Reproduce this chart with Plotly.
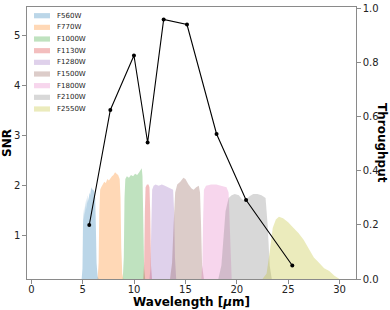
import plotly.graph_objects as go

# SNR per filter (left axis)
snr_wavelength = [5.64, 7.69, 9.99, 11.32, 12.88, 15.15, 18.03, 20.9, 25.4]
snr_values = [1.2, 3.5, 4.59, 2.85, 5.31, 5.21, 3.02, 1.7, 0.39]

filter_names = ["F560W", "F770W", "F1000W", "F1130W", "F1280W",
                "F1500W", "F1800W", "F2100W", "F2550W"]
filter_colors = ["rgba(31,119,180,0.3)", "rgba(255,127,14,0.3)", "rgba(44,160,44,0.3)",
                 "rgba(214,39,40,0.3)", "rgba(148,103,189,0.3)", "rgba(140,86,75,0.3)",
                 "rgba(227,119,194,0.3)", "rgba(127,127,127,0.3)", "rgba(188,189,34,0.3)"]

f560w_wl = [4.9, 4.98, 5.03, 5.08, 5.12, 5.18, 5.22, 5.28, 5.33, 5.4, 5.45, 5.5, 5.58, 5.65,
            5.72, 5.8, 5.88, 5.95, 6.05, 6.15, 6.22, 6.28, 6.35, 6.45, 6.55]
f560w_tp = [0.0, 0.04, 0.2, 0.26, 0.22, 0.27, 0.24, 0.29, 0.26, 0.3, 0.28, 0.31, 0.29, 0.32,
            0.31, 0.33, 0.34, 0.33, 0.33, 0.32, 0.3, 0.2, 0.06, 0.01, 0.0]

f770w_wl = [6.45, 6.55, 6.62, 6.7, 6.8, 6.95, 7.1, 7.25, 7.4, 7.55, 7.7, 7.85, 8.0, 8.15,
            8.3, 8.45, 8.6, 8.68, 8.75, 8.85, 8.95]
f770w_tp = [0.0, 0.06, 0.25, 0.33, 0.34, 0.35, 0.36, 0.355, 0.37, 0.365, 0.375, 0.38, 0.385,
            0.395, 0.39, 0.385, 0.37, 0.3, 0.12, 0.02, 0.0]

f1000w_wl = [8.9, 9.0, 9.07, 9.15, 9.3, 9.5, 9.7, 9.9, 10.1, 10.3, 10.5, 10.65, 10.75,
             10.82, 10.9, 10.98, 11.08]
f1000w_tp = [0.0, 0.08, 0.3, 0.37, 0.38, 0.375, 0.385, 0.38, 0.39, 0.385, 0.395, 0.405,
             0.41, 0.38, 0.2, 0.04, 0.0]

f1130w_wl = [10.9, 10.98, 11.05, 11.12, 11.25, 11.4, 11.5, 11.57, 11.65, 11.75]
f1130w_tp = [0.0, 0.06, 0.25, 0.34, 0.35, 0.35, 0.34, 0.25, 0.05, 0.0]

f1280w_wl = [11.5, 11.6, 11.68, 11.76, 11.9, 12.1, 12.4, 12.7, 13.0, 13.3, 13.6, 13.8,
             13.9, 13.98, 14.1]
f1280w_tp = [0.0, 0.04, 0.2, 0.33, 0.345, 0.35, 0.345, 0.35, 0.345, 0.34, 0.335, 0.33,
             0.25, 0.08, 0.0]

f1500w_wl = [13.5, 13.7, 13.85, 14.0, 14.2, 14.5, 14.8, 15.0, 15.3, 15.6, 15.8, 16.05,
             16.3, 16.42, 16.52, 16.62, 16.8]
f1500w_tp = [0.0, 0.06, 0.2, 0.32, 0.35, 0.36, 0.375, 0.37, 0.35, 0.335, 0.33, 0.34,
             0.345, 0.32, 0.2, 0.05, 0.0]

f1800w_wl = [16.55, 16.65, 16.72, 16.8, 17.0, 17.5, 18.0, 18.5, 19.0, 19.2, 19.3, 19.38, 19.5]
f1800w_tp = [0.0, 0.06, 0.22, 0.33, 0.345, 0.35, 0.35, 0.345, 0.34, 0.32, 0.2, 0.06, 0.0]

f2100w_wl = [18.2, 18.5, 18.7, 18.9, 19.2, 19.5, 19.8, 20.2, 20.5, 20.8, 21.2, 21.6,
             22.0, 22.4, 22.8, 23.0, 23.2, 23.4]
f2100w_tp = [0.0, 0.05, 0.15, 0.25, 0.3, 0.31, 0.315, 0.31, 0.295, 0.29, 0.305, 0.315,
             0.315, 0.31, 0.3, 0.2, 0.05, 0.0]

f2550w_wl = [22.5, 22.9, 23.2, 23.5, 23.8, 24.1, 24.5, 25.0, 25.5, 26.0, 26.5, 27.0, 27.5,
             28.0, 28.5, 29.0, 29.5, 30.0]
f2550w_tp = [0.0, 0.02, 0.1, 0.19, 0.22, 0.23, 0.225, 0.21, 0.19, 0.17, 0.145, 0.11, 0.08,
             0.06, 0.04, 0.03, 0.012, 0.0]

filter_wl = [f560w_wl, f770w_wl, f1000w_wl, f1130w_wl, f1280w_wl,
             f1500w_wl, f1800w_wl, f2100w_wl, f2550w_wl]
filter_tp = [f560w_tp, f770w_tp, f1000w_tp, f1130w_tp, f1280w_tp,
             f1500w_tp, f1800w_tp, f2100w_tp, f2550w_tp]

FONT = "DejaVu Sans"
fig = go.Figure()

for name, col, wl, tp in zip(filter_names, filter_colors, filter_wl, filter_tp):
    fig.add_trace(go.Scatter(x=wl, y=tp, mode="lines", fill="tozeroy", fillcolor=col,
                             line=dict(width=0, color=col), name=name, yaxis="y",
                             showlegend=False, hoverinfo="skip"))

fig.add_trace(go.Scatter(x=snr_wavelength, y=snr_values, mode="lines+markers",
                         line=dict(color="black", width=1.1), marker=dict(color="black", size=4),
                         yaxis="y2", showlegend=False, name="SNR"))

axis_common = dict(showgrid=False, zeroline=False, showline=True, linecolor="#8a8a8a",
                   linewidth=1.3, ticks="outside", ticklen=3.5, tickcolor="#8a8a8a",
                   tickfont=dict(family=FONT, size=10, color="#222"), automargin=False)

fig.update_layout(
    width=390, height=310,
    margin=dict(l=27, r=34, t=7, b=31),
    paper_bgcolor="white", plot_bgcolor="white",
    xaxis=dict(range=[-0.42, 31.6], tickvals=[0, 5, 10, 15, 20, 25, 30], mirror=True,
               ticklabelstandoff=-3,
               title=dict(text="<b>Wavelength [<i>μ</i>m]</b>", standoff=0,
                          font=dict(family=FONT, size=12, color="black")),
               **axis_common),
    yaxis=dict(range=[0, 1.007], side="right", tickvals=[0, 0.2, 0.4, 0.6, 0.8, 1.0],
               ticktext=["0.0", "0.2", "0.4", "0.6", "0.8", "1.0"], **axis_common),
    yaxis2=dict(range=[0.12, 5.56], side="left", overlaying="y",
                tickvals=[1, 2, 3, 4, 5],
                title=dict(text="<b>SNR</b>", standoff=0,
                           font=dict(family=FONT, size=12, color="black")),
                **axis_common),
    showlegend=False,
)

fig.add_annotation(text="<b>Throughput</b>", xref="paper", yref="paper", x=1, y=0.5,
                   xshift=26, xanchor="center", yanchor="middle", textangle=90,
                   showarrow=False, font=dict(family=FONT, size=12, color="black"))

# legend (patches + labels), top-left inside axes
plot_w = 390 - 27 - 34
plot_h = 310 - 7 - 31
for i, (name, col) in enumerate(zip(filter_names, filter_colors)):
    yc = 15.7 + i * 11.66  # pixel from top
    ypaper = 1 - (yc - 7) / plot_h
    x0 = (34 - 27) / plot_w
    x1 = (50 - 27) / plot_w
    dy = 2.6 / plot_h
    fig.add_shape(type="rect", xref="paper", yref="paper", x0=x0, x1=x1,
                  y0=ypaper - dy, y1=ypaper + dy, fillcolor=col, line=dict(width=0))
    fig.add_annotation(text=name, xref="paper", yref="paper", x=(55 - 27) / plot_w, y=ypaper,
                       xanchor="left", yanchor="middle", showarrow=False,
                       font=dict(family=FONT, size=7, color="#222"))

fig.write_html("out.html", config={"displayModeBar": False},
               post_script="document.body.style.margin='0';")
